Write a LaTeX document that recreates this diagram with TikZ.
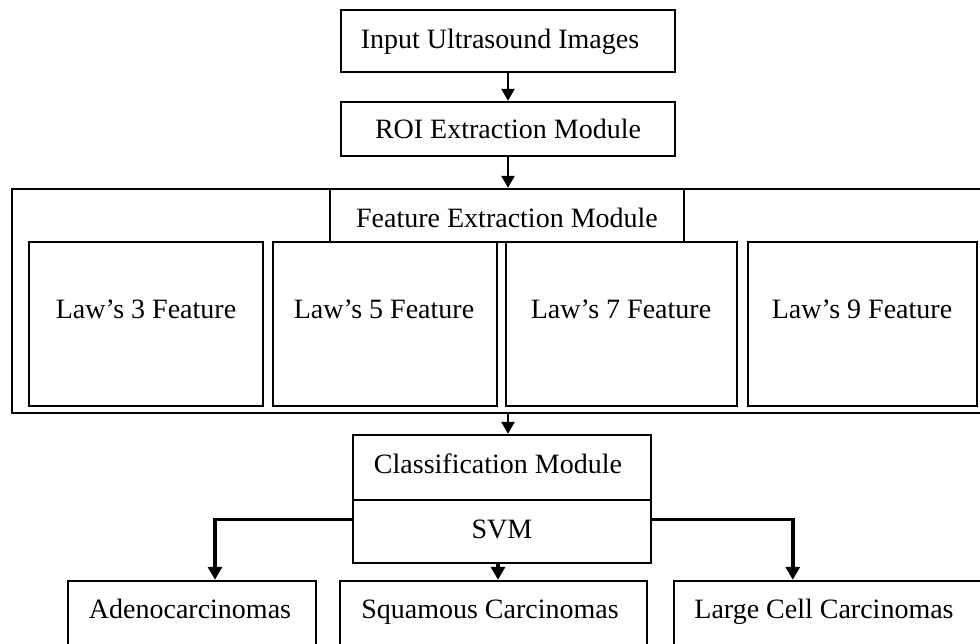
\documentclass[tikz,border=0pt]{standalone}
\usepackage{fontspec}
\setmainfont{Liberation Serif}
\usetikzlibrary{arrows.meta}
\begin{document}
\begin{tikzpicture}[x=1pt,y=-1pt,
  box/.style={draw=black,line width=2.4pt,rectangle,inner sep=0pt,fill=white},
  lbl/.style={font=\fontsize{28}{32}\selectfont,inner sep=0pt,anchor=base},
  arr/.style={line width=2.4pt,-{Triangle[width=13pt,length=12pt]}},
  barr/.style={line width=3.6pt,-{Triangle[width=14pt,length=13pt]}}]
\useasboundingbox (0,0) rectangle (980,643);
\clip (0,0) rectangle (980,643);
\fill[white] (0,0) rectangle (980,643);
% top boxes
\node[box,minimum width=334,minimum height=62] (inp) at (508,41) {};
\node[lbl] (inpt) at (500,48) {Input Ultrasound Images};
\node[box,minimum width=334,minimum height=54] (roi) at (508,129) {};
\node[lbl] (roit) at (508,138) {ROI Extraction Module};
% feature extraction
\node[box,minimum width=980,minimum height=224] (outer) at (502,301) {};
\node[box,minimum width=354,minimum height=53] (fem) at (507,215.5) {};
\node[lbl] (femt) at (507,227) {Feature Extraction Module};
\node[box,minimum width=234,minimum height=164] (l3) at (146,324) {};
\node[lbl] (l3t) at (146,318) {Law’s 3 Feature};
\node[box,minimum width=224,minimum height=164] (l5) at (385,324) {};
\node[lbl] (l5t) at (384,318) {Law’s 5 Feature};
\node[box,minimum width=231,minimum height=164] (l7) at (621.5,324) {};
\node[lbl] (l7t) at (621,318) {Law’s 7 Feature};
\node[box,minimum width=229,minimum height=164] (l9) at (862.5,324) {};
\node[lbl] (l9t) at (862,318) {Law’s 9 Feature};
% classification
\node[box,minimum width=298,minimum height=65] (cls) at (502,467.5) {};
\node[lbl] (clst) at (498,473) {Classification Module};
\node[box,minimum width=298,minimum height=63] (svm) at (502,531.5) {};
\node[lbl] (svmt) at (502,538) {SVM};
% outputs
\node[box,minimum width=248,minimum height=120] (ade) at (192,641) {};
\node[lbl] (adet) at (190,618) {Adenocarcinomas};
\node[box,minimum width=307,minimum height=120] (sq) at (493.5,641) {};
\node[lbl] (sqt) at (490,618) {Squamous Carcinomas};
\node[box,minimum width=340,minimum height=120] (lg) at (844,641) {};
\node[lbl] (lgt) at (824,618) {Large Cell Carcinomas};
% connectors
\draw[arr] (inp.south) -- (roi.north);
\draw[arr] (roi.south) -- (roi.south |- outer.north);
\draw[arr] (roi.south |- outer.south) -- (roi.south |- cls.north);
\draw[barr] ([yshift=12]svm.west) -| ([xshift=23]ade.north);
\draw[barr] ([xshift=-4]svm.south) -- ([xshift=-4]svm.south |- sq.north);
\draw[barr] ([yshift=12]svm.east) -| ([xshift=120]lg.north west);
\end{tikzpicture}
\end{document}
